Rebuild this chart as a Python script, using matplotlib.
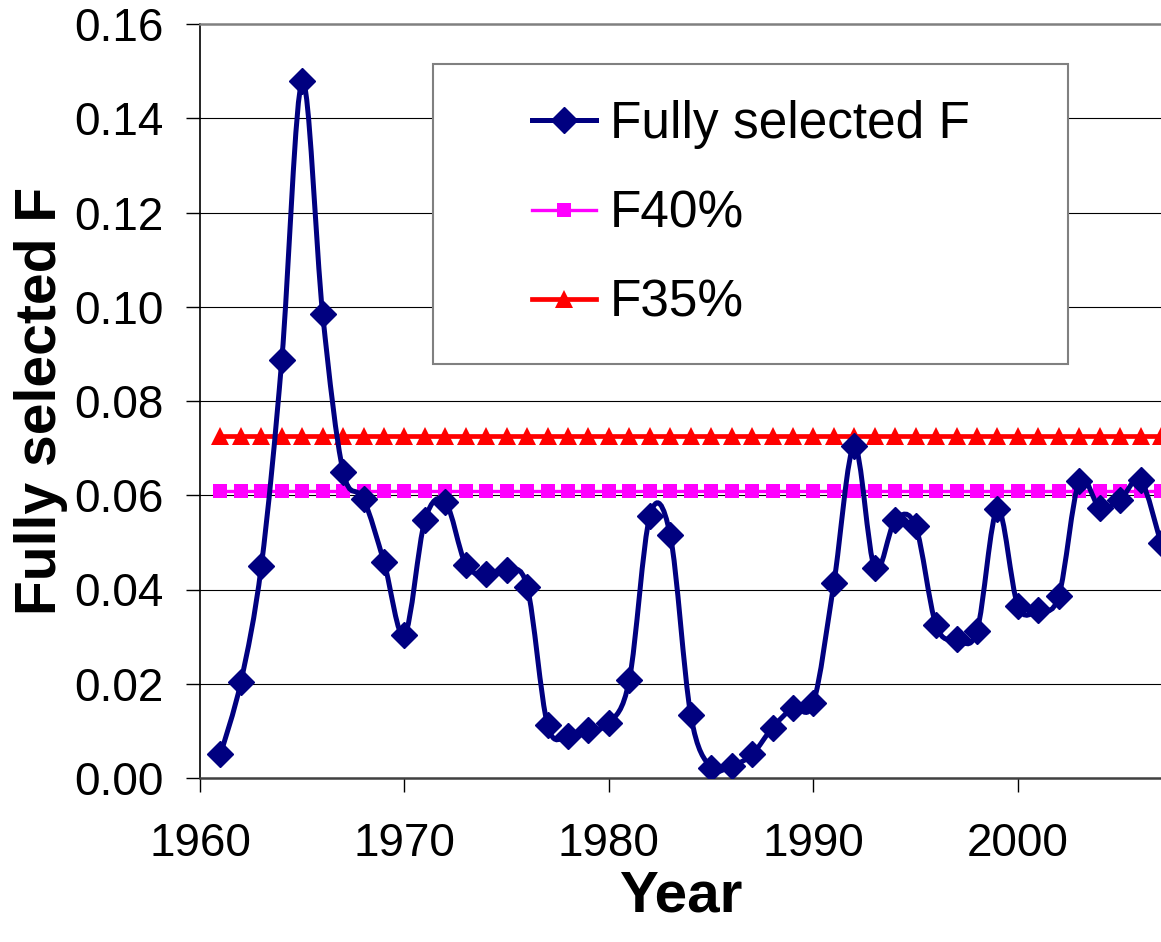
import matplotlib
matplotlib.use("Agg")
import matplotlib.pyplot as plt
from matplotlib.path import Path
from matplotlib.patches import PathPatch, Rectangle
from matplotlib.lines import Line2D
import numpy as np

plt.rcParams['font.family'] = ['Liberation Sans', 'DejaVu Sans']

# ---- data ----
years = list(range(1961, 2008))
fully_selected_F = [0.0050, 0.0204, 0.0450, 0.0887, 0.1478, 0.0984, 0.0650, 0.0592,
                    0.0458, 0.0303, 0.0547, 0.0586, 0.0453, 0.0433, 0.0441, 0.0406,
                    0.0112, 0.0089, 0.0102, 0.0116, 0.0209, 0.0556, 0.0515, 0.0134,
                    0.0022, 0.0026, 0.0050, 0.0107, 0.0148, 0.0160, 0.0413, 0.0704,
                    0.0445, 0.0547, 0.0534, 0.0324, 0.0294, 0.0312, 0.0570, 0.0365,
                    0.0356, 0.0386, 0.0630, 0.0574, 0.0590, 0.0632, 0.0498]
F40_value = 0.0609
F35_value = 0.0725
F40 = [F40_value] * len(years)
F35 = [F35_value] * len(years)
x_ticks = [1960, 1970, 1980, 1990, 2000]
y_ticks = [0.00, 0.02, 0.04, 0.06, 0.08, 0.10, 0.12, 0.14, 0.16]

navy = '#000080'
magenta = '#FF00FF'
red = '#FF0000'

W, H = 1161, 942
fig = plt.figure(figsize=(W / 100, H / 100), dpi=100)
ax = fig.add_axes([200 / W, 1 - 778 / H, 961 / W, 754 / H])

ax.set_xlim(1960, 2007)
ax.set_ylim(0, 0.16)

# grid
for yv in y_ticks[1:-1]:
    ax.axhline(yv, color='black', lw=0.8, zorder=1)

# reference lines
ax.plot(years, F35, color=red, lw=3.4, marker='^', ms=12.5, mew=0, zorder=3)
ax.plot(years, F40, color=magenta, lw=2.4, marker='s', ms=10, mew=0, zorder=3)

# smoothed series (Bezier through data points, Excel-like smoothing)
xs = np.asarray(years, dtype=float)
ys = np.asarray(fully_selected_F, dtype=float)
n = len(xs)
verts = [(xs[0], ys[0])]
codes = [Path.MOVETO]
for i in range(n - 1):
    p0 = (xs[max(i - 1, 0)], ys[max(i - 1, 0)])
    p1 = (xs[i], ys[i])
    p2 = (xs[i + 1], ys[i + 1])
    p3 = (xs[min(i + 2, n - 1)], ys[min(i + 2, n - 1)])
    c1 = (p1[0] + (p2[0] - p0[0]) / 6, p1[1] + (p2[1] - p0[1]) / 6)
    c2 = (p2[0] - (p3[0] - p1[0]) / 6, p2[1] - (p3[1] - p1[1]) / 6)
    verts += [c1, c2, p2]
    codes += [Path.CURVE4] * 3
patch = PathPatch(Path(verts, codes), facecolor='none', edgecolor=navy, lw=3.6,
                  zorder=4, transform=ax.transData)
ax.add_patch(patch)
ax.plot(years, fully_selected_F, ls='none', marker='D', ms=13.5, color=navy,
        mec=navy, mew=1.0, zorder=5)

# spines
ax.spines['right'].set_visible(False)
ax.spines['top'].set_color('#808080')
ax.spines['top'].set_linewidth(1.8)
ax.spines['left'].set_color('black')
ax.spines['left'].set_linewidth(1.2)
ax.spines['bottom'].set_color('#404040')
ax.spines['bottom'].set_linewidth(1.8)

ax.set_xticks(x_ticks)
ax.set_xticklabels([str(v) for v in x_ticks])
ax.set_yticks(y_ticks)
ax.set_yticklabels([f'{v:.2f}' for v in y_ticks])
ax.tick_params(axis='both', direction='out', length=10, width=1.0, colors='black',
               labelsize=33)
ax.tick_params(axis='y', pad=16)
ax.tick_params(axis='x', pad=22)

ax.set_xlabel('Year', fontsize=42, fontweight='bold', labelpad=2)
ax.set_ylabel('Fully selected F', fontsize=41, fontweight='bold', labelpad=5)

# legend box
lx0, ly0, lx1, ly1 = 433, 64, 1068, 364
frame = Rectangle((lx0 / W, 1 - ly1 / H), (lx1 - lx0) / W, (ly1 - ly0) / H,
                  transform=fig.transFigure, facecolor='white', edgecolor='#808080',
                  lw=1.5, zorder=10)
fig.patches.append(frame)
handles = [
    Line2D([], [], color=navy, lw=3.6, marker='D', ms=13.5, mew=1.0),
    Line2D([], [], color=magenta, lw=2.4, marker='s', ms=10, mew=0),
    Line2D([], [], color=red, lw=3.4, marker='^', ms=12.5, mew=0),
]
labels = ['Fully selected F', 'F40%', 'F35%']
leg = fig.legend(handles, labels, loc='center',
                 bbox_to_anchor=(lx0 / W, 1 - ly1 / H, (lx1 - lx0) / W, (ly1 - ly0) / H),
                 bbox_transform=fig.transFigure, frameon=False, fontsize=37,
                 numpoints=1, handlelength=1.26, handletextpad=0.26,
                 labelspacing=0.78, borderpad=0.0)
leg.set_zorder(11)

fig.savefig('out.png', dpi=100)
